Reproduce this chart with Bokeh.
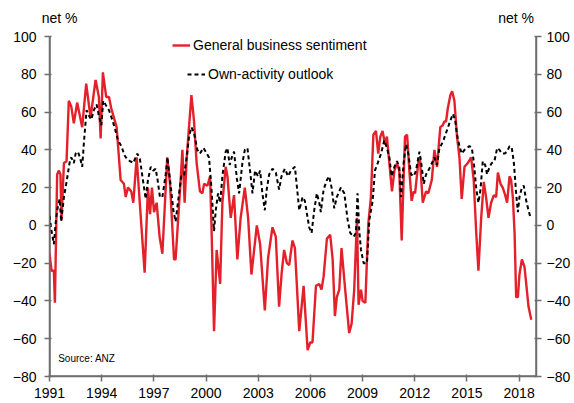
from bokeh.plotting import figure
from bokeh.models import (Range1d, LinearAxis, FixedTicker, Legend, LegendItem, Label, Span)
from bokeh.embed import file_html
from bokeh.resources import INLINE

# General business sentiment (net %)
sent_x = [1991.00, 1991.12, 1991.25, 1991.31, 1991.44, 1991.54, 1991.63, 1991.69, 1991.83, 1991.98,
          1992.11, 1992.25, 1992.40, 1992.59, 1992.88, 1993.11, 1993.36, 1993.65, 1993.84, 1993.94,
          1994.07, 1994.26, 1994.42, 1994.55, 1994.86, 1995.09, 1995.28, 1995.38, 1995.51, 1995.70,
          1995.82, 1996.01, 1996.47, 1996.66, 1996.78, 1996.89, 1997.01, 1997.16, 1997.33, 1997.49,
          1997.77, 1997.93, 1998.16, 1998.25, 1998.54, 1998.64, 1998.77, 1998.89, 1999.16, 1999.31,
          1999.46, 1999.65, 1999.79, 1999.89, 2000.08, 2000.23, 2000.31, 2000.46, 2000.61, 2000.81,
          2000.94, 2001.13, 2001.23, 2001.42, 2001.61, 2001.80, 2001.99, 2002.23, 2002.42, 2002.61,
          2002.92, 2003.11, 2003.38, 2003.57, 2003.82, 2004.01, 2004.20, 2004.35, 2004.49, 2004.65,
          2004.78, 2004.97, 2005.11, 2005.36, 2005.61, 2005.84, 2005.99, 2006.12, 2006.32, 2006.51,
          2006.64, 2006.76, 2006.95, 2007.14, 2007.28, 2007.41, 2007.52, 2007.66, 2007.79, 2007.99,
          2008.23, 2008.37, 2008.52, 2008.68, 2008.77, 2008.91, 2009.00, 2009.16, 2009.33, 2009.48,
          2009.62, 2009.77, 2009.90, 2010.02, 2010.15, 2010.29, 2010.40, 2010.54, 2010.69, 2010.83,
          2010.98, 2011.11, 2011.25, 2011.36, 2011.44, 2011.56, 2011.69, 2011.82, 2011.94, 2012.02,
          2012.21, 2012.30, 2012.46, 2012.65, 2012.78, 2012.98, 2013.13, 2013.28, 2013.47, 2013.61,
          2013.70, 2013.80, 2013.90, 2014.05, 2014.15, 2014.28, 2014.43, 2014.57, 2014.70, 2014.86,
          2015.05, 2015.24, 2015.39, 2015.53, 2015.66, 2015.82, 2015.97, 2016.10, 2016.24, 2016.39,
          2016.55, 2016.68, 2016.78, 2016.93, 2017.06, 2017.20, 2017.31, 2017.45, 2017.54, 2017.64,
          2017.74, 2017.83, 2017.93, 2018.02, 2018.16, 2018.31, 2018.41, 2018.54, 2018.70]
sent_y = [-15, -24, -24, -41, 27, 29, 27, 3, 33, 34,
          66, 63, 54, 65, 52, 75, 57, 77, 68, 46,
          81, 68, 68, 62, 52, 24, 22, 15, 20, 18,
          12, 36, -25, 20, 6, 20, 7, 12, -6, -15,
          36, 22, -18, -18, 24, 40, 12, 36, 69, 55,
          33, 18, 17, 22, 21, 26, 1, -56, -13, -31,
          12, 31, 26, 4, 16, -18, 4, 20, 4, -26,
          0, -10, -45, -17, -1, -6, -43, -25, -13, -20,
          -21, -8, -12, -56, -32, -66, -62, -62, -32, -31,
          -34, -27, -7, -5, -18, -48, -38, -34, -12, -33,
          -57, -52, -34, 4, -42, -34, -40, -41, 1, 15,
          48, 50, 38, 47, 50, 43, 47, 33, 18, 29,
          33, 29, -8, 25, 47, 48, 29, 13, 18, 17,
          34, 35, 12, 18, 17, 24, 40, 31, 52, 53,
          55, 55, 62, 69, 71, 66, 47, 36, 14, 31,
          33, 36, 24, -3, -24, 4, 23, 15, 4, 12,
          16, 15, 28, 22, 20, 16, 12, 26, 24, 15,
          -4, -38, -38, -26, -18, -22, -31, -43, -50]

# Own-activity outlook (net %)
own_x = [1991.00, 1991.12, 1991.25, 1991.35, 1991.44, 1991.58, 1991.67, 1991.83, 1991.98, 1992.17,
         1992.25, 1992.40, 1992.50, 1992.63, 1992.75, 1992.88, 1992.98, 1993.13, 1993.27, 1993.40,
         1993.55, 1993.71, 1993.84, 1993.98, 1994.09, 1994.22, 1994.42, 1994.57, 1994.74, 1994.94,
         1995.13, 1995.32, 1995.47, 1995.63, 1995.82, 1995.95, 1996.05, 1996.20, 1996.34, 1996.53,
         1996.66, 1996.82, 1996.97, 1997.10, 1997.20, 1997.35, 1997.49, 1997.68, 1997.78, 1997.93,
         1998.12, 1998.25, 1998.45, 1998.58, 1998.73, 1998.89, 1999.02, 1999.16, 1999.31, 1999.50,
         1999.65, 1999.85, 1999.98, 2000.17, 2000.31, 2000.46, 2000.56, 2000.69, 2000.81, 2000.94,
         2001.13, 2001.23, 2001.36, 2001.48, 2001.61, 2001.77, 2001.90, 2002.09, 2002.23, 2002.38,
         2002.53, 2002.67, 2002.82, 2002.99, 2003.11, 2003.24, 2003.38, 2003.49, 2003.63, 2003.82,
         2004.01, 2004.20, 2004.34, 2004.53, 2004.72, 2004.88, 2005.11, 2005.36, 2005.55, 2005.68,
         2005.93, 2006.07, 2006.22, 2006.37, 2006.51, 2006.60, 2006.76, 2006.95, 2007.08, 2007.22,
         2007.37, 2007.52, 2007.75, 2007.95, 2008.14, 2008.29, 2008.48, 2008.62, 2008.71, 2008.81,
         2008.91, 2009.06, 2009.25, 2009.39, 2009.58, 2009.71, 2009.87, 2010.06, 2010.25, 2010.40,
         2010.54, 2010.67, 2010.83, 2010.98, 2011.11, 2011.21, 2011.36, 2011.50, 2011.63, 2011.79,
         2011.94, 2012.07, 2012.27, 2012.36, 2012.52, 2012.65, 2012.78, 2012.94, 2013.13, 2013.28,
         2013.42, 2013.61, 2013.80, 2013.99, 2014.19, 2014.32, 2014.43, 2014.57, 2014.70, 2014.86,
         2015.01, 2015.14, 2015.28, 2015.39, 2015.53, 2015.66, 2015.78, 2015.91, 2016.05, 2016.16,
         2016.30, 2016.43, 2016.58, 2016.74, 2016.87, 2017.01, 2017.16, 2017.31, 2017.45, 2017.58,
         2017.70, 2017.83, 2017.93, 2018.02, 2018.16, 2018.27, 2018.41, 2018.54, 2018.66]
own_y = [5, -3, -10, 1, 8, 14, 2, 15, 23, 34,
         36, 33, 38, 39, 36, 31, 44, 61, 58, 56,
         61, 64, 58, 53, 66, 64, 61, 57, 52, 45,
         42, 37, 35, 34, 33, 36, 38, 35, 26, 14,
         24, 31, 29, 30, 25, 15, 15, 27, 36, 24,
         8, 2, 17, 26, 26, 36, 47, 52, 49, 40,
         38, 41, 39, 36, 20, -3, 8, 17, 12, 26,
         39, 41, 32, 36, 39, 25, 17, 33, 40, 41,
         29, 17, 29, 26, 29, 17, 8, 19, 27, 30,
         28, 19, 26, 30, 26, 29, 31, 8, 15, 13,
         -1, -4, 8, 17, 12, 7, 19, 24, 26, 20,
         9, 15, 20, 17, 3, -4, -6, -4, 17, -3,
         -13, -20, -20, 3, 13, 29, 33, 38, 45, 41,
         36, 26, 31, 34, 31, 15, 33, 43, 38, 27,
         26, 29, 39, 34, 22, 27, 29, 32, 36, 32,
         41, 44, 49, 54, 59, 56, 48, 42, 38, 40,
         41, 42, 41, 34, 20, 12, 19, 34, 32, 27,
         31, 33, 34, 41, 40, 38, 38, 39, 42, 41,
         33, 17, 7, 15, 20, 21, 13, 8, 4]

x_ticks = [1991, 1994, 1997, 2000, 2003, 2006, 2009, 2012, 2015, 2018]
y_ticks = [-80, -60, -40, -20, 0, 20, 40, 60, 80, 100]
unit_label = "net %"
unit_label_pos = [1991.58, 2017.83]

FONT = "Liberation Sans"
AX = "#6e6e6e"
X0, X1, Y0, Y1 = 1991, 2019, -80, 100

p = figure(width=574, height=403, output_backend="svg", toolbar_location=None,
           x_range=Range1d(X0, X1), y_range=Range1d(Y0, Y1),
           min_border_left=49, min_border_right=38, min_border_top=36, min_border_bottom=27)
p.outline_line_color = None
p.xgrid.visible = False
p.ygrid.visible = False

# axis rules along the frame edges (drawn first, under the data)
for loc, dim in ((X0, "height"), (X1, "height"), (Y0, "width")):
    p.add_layout(Span(location=loc, dimension=dim, line_color=AX, line_width=2.5, level="underlay"))

r_sent = p.line(sent_x, sent_y, line_color="#E4202A", line_width=2.4)
r_own = p.line(own_x, own_y, line_color="black", line_width=2, line_dash="4 3")

def style(ax, standoff=8):
    ax.axis_line_color = AX
    ax.axis_line_width = 1.5
    ax.major_tick_line_color = AX
    ax.major_tick_line_width = 1.5
    ax.major_tick_out = 5
    ax.major_label_text_font = FONT
    ax.major_label_text_font_size = "14px"
    ax.major_label_text_color = "black"
    ax.major_label_standoff = standoff

p.xaxis.ticker = FixedTicker(ticks=x_ticks)
p.yaxis.ticker = FixedTicker(ticks=y_ticks)
style(p.xaxis[0], 6)
style(p.yaxis[0], 8)

ry = LinearAxis(ticker=FixedTicker(ticks=y_ticks))
style(ry, 5)
p.add_layout(ry, "right")

# "net %" unit labels above both y axes
top = LinearAxis(ticker=FixedTicker(ticks=unit_label_pos),
                 major_label_overrides={v: unit_label for v in unit_label_pos})
top.axis_line_alpha = 0
top.major_tick_line_alpha = 0
top.minor_tick_line_alpha = 0
top.major_label_text_font = FONT
top.major_label_text_font_size = "14px"
top.major_label_text_color = "black"
top.major_label_standoff = 5
p.add_layout(top, "above")

leg1 = Legend(items=[LegendItem(label="General business sentiment", renderers=[r_sent])],
              location=(123, 323))
leg2 = Legend(items=[LegendItem(label="Own-activity outlook", renderers=[r_own])],
              location=(138, 294))
for lg in (leg1, leg2):
    lg.border_line_color = None
    lg.background_fill_alpha = 0
    lg.padding = 0
    lg.margin = 0
    lg.spacing = 0
    lg.glyph_width = 18
    lg.glyph_height = 16
    lg.label_height = 16
    lg.label_standoff = 3
    lg.label_text_font = FONT
    lg.label_text_font_size = "14px"
    lg.label_text_color = "black"
    p.add_layout(lg)

p.add_layout(Label(x=1991.5, y=-70.5, text="Source: ANZ", text_font=FONT,
                   text_font_size="10px", text_baseline="middle", text_color="black"))

open("out.html", "w").write(file_html(p, INLINE))
